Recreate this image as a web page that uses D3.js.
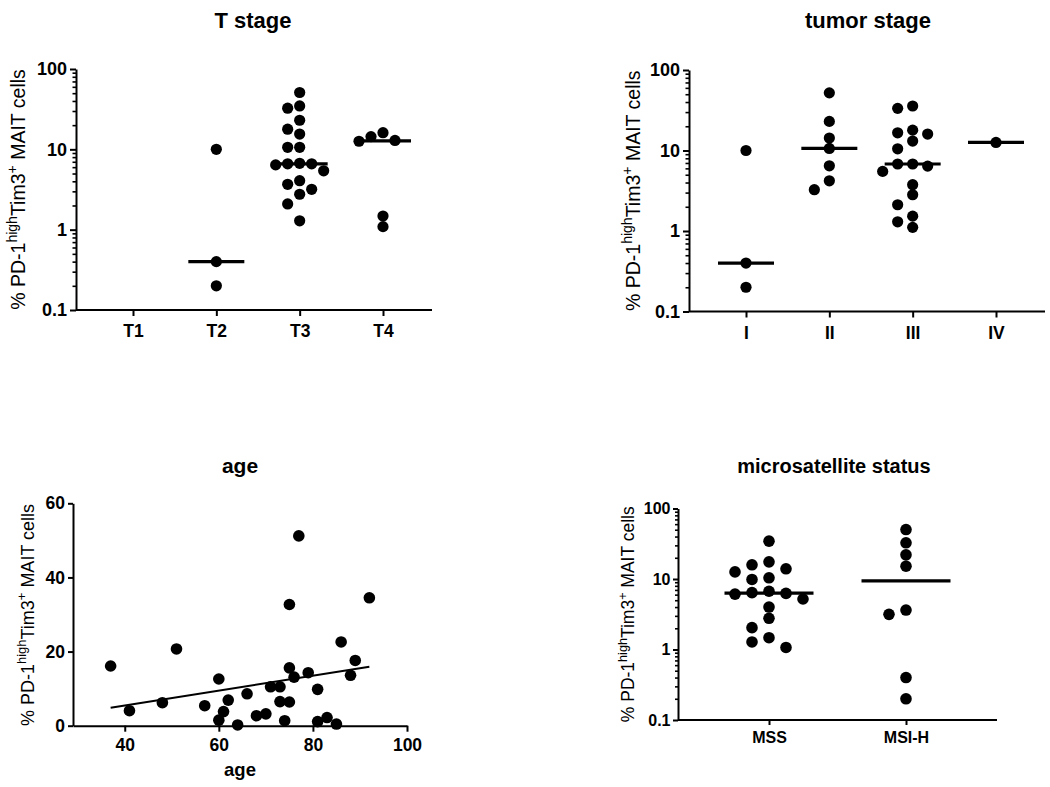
<!DOCTYPE html>
<html><head><meta charset="utf-8">
<script src="https://cdn.jsdelivr.net/npm/d3@7"></script>
<style>
body{margin:0;background:#fff}
svg{display:block}
text{font-family:"Liberation Sans",Arial,Helvetica,sans-serif;fill:#000;white-space:pre}
</style>
</head><body>
<svg id="chart" width="1050" height="787"></svg>
<script>
// ---------- DATA ----------
const tStageCategories = ["T1", "T2", "T3", "T4"];
const tStageT1 = [];
const tStageT2 = [10, 0.4, 0.2];
const tStageT3 = [51, 34.7, 32.5, 23, 17.8, 15.5, 10.6, 10.6, 6.7, 6.6, 6.6, 6.4, 5.4, 4.07, 3.67, 3.18, 2.76, 2.09, 1.29];
const tStageT4 = [16.1, 14.4, 12.9, 12.6, 1.48, 1.09];

const tumorStageCategories = ["I", "II", "III", "IV"];
const tumorI = [10, 0.4, 0.2];
const tumorII = [52, 23, 14.3, 10.6, 6.46, 4.2, 3.26];
const tumorIII = [35.7, 33.4, 17.9, 16.6, 16, 13.1, 10.5, 6.8, 6.8, 6.4, 5.5, 3.76, 2.82, 2.12, 1.53, 1.3, 1.11];
const tumorIV = [12.6];

const msiCategories = ["MSS", "MSI-H"];
const msiMSS = [34.4, 17.5, 15.9, 13.96, 12.6, 10.4, 9.86, 6.7, 6.4, 6.25, 6.1, 5.2, 4.0, 2.77, 2.04, 1.47, 1.28, 1.07];
const msiMSIH = [50.3, 32.6, 22, 15.2, 3.63, 3.15, 0.4, 0.2];

const logTickValues = [0.1, 1, 10, 100];
const logTickLabels = ["0.1", "1", "10", "100"];

const ageYears = [37, 41, 48, 51, 57, 60, 60, 61, 62, 64, 66, 68, 70, 71, 73, 73, 74, 75, 75, 75, 76, 77, 79, 81, 81, 83, 85, 86, 88, 89, 92];
const agePercent = [16.1, 4.05, 6.2, 20.7, 5.4, 12.6, 1.5, 3.8, 6.9, 0.2, 8.6, 2.7, 3.2, 10.5, 10.5, 6.5, 1.35, 32.7, 15.6, 6.4, 13.1, 51.2, 14.3, 9.8, 1.1, 2.2, 0.45, 22.6, 13.6, 17.6, 34.5];
const ageFitX = [37, 92];
const ageFitY = [4.86, 15.9];
const ageXTicks = [40, 60, 80, 100];
const ageYTicks = [0, 20, 40, 60];

// ---------- HELPERS ----------
const svg = d3.select("#chart");

function swarmOffsets(values, y, spacing, thresh) {
  const order = values.map((v, i) => i).sort((a, b) => values[b] - values[a]);
  const placed = [];
  const off = new Array(values.length);
  order.forEach(i => {
    const py = y(values[i]);
    for (let k = 0; ; k++) {
      const lane = k === 0 ? 0 : (k % 2 ? -Math.ceil(k / 2) : Math.ceil(k / 2));
      if (!placed.some(p => p.lane === lane && Math.abs(p.py - py) < thresh)) {
        placed.push({lane, py});
        off[i] = lane * spacing;
        break;
      }
    }
  });
  return off;
}

function yLabel(g, cx, cy, fs) {
  const t = g.append("text")
    .attr("transform", `translate(${cx},${cy}) rotate(-90)`)
    .attr("text-anchor", "middle")
    .style("font-size", fs + "px");
  const sup = fs * 0.72, shift = fs * 0.42;
  t.append("tspan").text("% PD-1");
  t.append("tspan").attr("dy", -shift).style("font-size", sup + "px").text("high");
  t.append("tspan").attr("dy", shift).text("Tim3");
  t.append("tspan").attr("dy", -shift).style("font-size", sup + "px").text("+");
  t.append("tspan").attr("dy", shift).text(" MAIT cells");
}

function styleAxis(sel, fs, sw) {
  sel.selectAll("path.domain").attr("stroke", "#000").attr("stroke-width", sw);
  sel.selectAll(".tick line").attr("stroke", "#000").attr("stroke-width", sw);
  sel.selectAll("text").style("font-size", fs + "px").style("font-weight", "bold")
    .style("font-family", '"Liberation Sans",Arial,sans-serif').attr("fill", "#000");
}

function dotPanel(c) {
  const g = svg.append("g");
  const y = d3.scaleLog().domain([0.1, 100]).range([c.yBottom, c.yTop]);
  const x = d3.scalePoint().domain(c.categories).range([c.firstX, c.lastX]);

  const minor = y.ticks().filter(v => !logTickValues.includes(v));
  g.append("g").attr("transform", `translate(${c.x0},0)`)
    .call(d3.axisLeft(y).tickValues(minor).tickSize(c.minorTick).tickFormat(""))
    .call(s => s.select(".domain").remove())
    .selectAll(".tick line").attr("stroke", "#000").attr("stroke-width", 1.6);

  const ya = g.append("g").attr("transform", `translate(${c.x0},0)`)
    .call(d3.axisLeft(y).tickValues(logTickValues).tickSize(c.majorTick).tickSizeOuter(0)
      .tickPadding(c.yPad).tickFormat((d, i) => logTickLabels[i]));
  styleAxis(ya, c.yTickFs, 2);

  const xa = g.append("g").attr("transform", `translate(0,${c.yBottom})`)
    .call(d3.axisBottom(x).tickSize(c.majorTick).tickSizeOuter(0).tickPadding(c.xPad));
  xa.select(".domain").attr("d", `M${c.x0},0H${c.xEnd}`);
  styleAxis(xa, c.xTickFs, 2);

  c.groups.forEach((vals, gi) => {
    const cat = c.categories[gi];
    const off = swarmOffsets(vals, y, c.spacing, c.thresh);
    g.append("g").selectAll("circle").data(vals).join("circle")
      .attr("cx", (d, i) => x(cat) + off[i])
      .attr("cy", d => y(d))
      .attr("r", c.r)
      .attr("fill", "#000");
    if (vals.length) {
      const m = d3.median(vals);
      g.append("line")
        .attr("x1", x(cat) - c.medW / 2).attr("x2", x(cat) + c.medW / 2)
        .attr("y1", y(m)).attr("y2", y(m))
        .attr("stroke", "#000").attr("stroke-width", 3.2);
    }
  });

  g.append("text").attr("x", c.titleX).attr("y", c.titleY).attr("text-anchor", "middle")
    .style("font-size", c.titleFs + "px").style("font-weight", "bold").text(c.title);
  yLabel(g, c.labelX, (c.yTop + c.yBottom) / 2, c.labelFs);
}

// ---------- PANELS ----------
dotPanel({
  categories: tStageCategories, groups: [tStageT1, tStageT2, tStageT3, tStageT4],
  x0: 76, xEnd: 432, firstX: 133, lastX: 383, yTop: 69, yBottom: 310,
  majorTick: 6, minorTick: 3.5, yPad: 3, xPad: 9, yTickFs: 18, xTickFs: 17.5,
  r: 5.6, spacing: 12, thresh: 10, medW: 56,
  title: "T stage", titleX: 253, titleY: 28, titleFs: 22,
  labelX: 25, labelFs: 19.5
});

dotPanel({
  categories: tumorStageCategories, groups: [tumorI, tumorII, tumorIII, tumorIV],
  x0: 689, xEnd: 1045, firstX: 746, lastX: 996, yTop: 70, yBottom: 311.5,
  majorTick: 6, minorTick: 3.5, yPad: 3, xPad: 9, yTickFs: 18, xTickFs: 17.5,
  r: 5.6, spacing: 15, thresh: 10, medW: 56,
  title: "tumor stage", titleX: 868, titleY: 28, titleFs: 22,
  labelX: 640, labelFs: 19.5
});

dotPanel({
  categories: msiCategories, groups: [msiMSS, msiMSIH],
  x0: 678, xEnd: 997, firstX: 769, lastX: 906, yTop: 508.5, yBottom: 720,
  majorTick: 5, minorTick: 3, yPad: 2.5, xPad: 7, yTickFs: 16, xTickFs: 16,
  r: 5.8, spacing: 17, thresh: 10.5, medW: 89,
  title: "microsatellite status", titleX: 834, titleY: 473, titleFs: 20,
  labelX: 634, labelFs: 17.5
});

// age scatter
(function () {
  const g = svg.append("g");
  const x = d3.scaleLinear().domain([29, 100]).range([73, 407]);
  const y = d3.scaleLinear().domain([0, 60]).range([725.7, 503.3]);

  const ya = g.append("g").attr("transform", `translate(${x(29)},0)`)
    .call(d3.axisLeft(y).tickValues(ageYTicks).tickSize(5).tickSizeOuter(0).tickPadding(3));
  styleAxis(ya, 17.5, 2);
  const xa = g.append("g").attr("transform", `translate(0,${y(0)})`)
    .call(d3.axisBottom(x).tickValues(ageXTicks).tickSize(6).tickSizeOuter(0).tickPadding(7));
  styleAxis(xa, 17.5, 2);

  g.append("line")
    .attr("x1", x(ageFitX[0])).attr("y1", y(ageFitY[0]))
    .attr("x2", x(ageFitX[1])).attr("y2", y(ageFitY[1]))
    .attr("stroke", "#000").attr("stroke-width", 2);

  g.append("g").selectAll("circle").data(ageYears).join("circle")
    .attr("cx", d => x(d)).attr("cy", (d, i) => y(agePercent[i])).attr("r", 5.8).attr("fill", "#000");

  g.append("text").attr("x", 240).attr("y", 473).attr("text-anchor", "middle")
    .style("font-size", "21px").style("font-weight", "bold").text("age");
  g.append("text").attr("x", 240).attr("y", 776).attr("text-anchor", "middle")
    .style("font-size", "18.5px").style("font-weight", "bold").text("age");
  yLabel(g, 34, 615, 18);
})();
</script>
</body></html>
